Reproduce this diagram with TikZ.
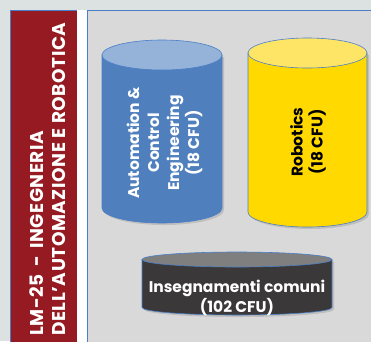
\documentclass[tikz,border=0pt]{standalone}
\usepackage{fontspec}
\setmainfont{Poppins}
\definecolor{bgc}{HTML}{DCE1E1}
\definecolor{panelc}{HTML}{D9D9D9}
\definecolor{redc}{HTML}{951A21}
\definecolor{edgec}{HTML}{4A7EC8}
\definecolor{blueside}{HTML}{4F7FBD}
\definecolor{bluetop}{HTML}{95B2D8}
\definecolor{yelside}{HTML}{FFD900}
\definecolor{yeltop}{HTML}{FFE566}
\definecolor{darkside}{HTML}{3A3838}
\definecolor{darktop}{HTML}{7F7F7F}
\tikzset{
  cylside/.style={line width=0.6pt, draw=edgec},
  cyltop/.style={line width=0.6pt, draw=edgec},
  cylshadow/.style={fill=black, opacity=0.12},
  labelw/.style={text=white, font=\bfseries\fontsize{15.5}{20}\selectfont, align=center, inner sep=0pt},
  labelk/.style={text=black, font=\bfseries\fontsize{15.5}{20}\selectfont, align=center, inner sep=0pt},
  sidetext/.style={text=white, font=\bfseries\fontsize{18.5}{22}\selectfont\addfontfeature{LetterSpace=3}, align=left, inner sep=0pt},
}
% cylinder: #1 xl, #2 xr, #3 yt, #4 yb, #5 ry, #6 side colour, #7 top colour
\newcommand{\mycyl}[7]{%
  \pgfmathsetmacro{\rxx}{(#2-#1)/2}%
  \fill[cylshadow] (#1+2,#3+2) -- (#1+2,#4+2) arc[start angle=180,end angle=0,x radius=\rxx,y radius=#5] -- (#2+2,#3+2) -- cycle;
  \filldraw[cylside, fill=#6] (#1,#3) -- (#1,#4) arc[start angle=180,end angle=0,x radius=\rxx,y radius=#5] -- (#2,#3) -- cycle;
  \filldraw[cyltop, fill=#7] ({(#1+#2)/2},#3) ellipse[x radius=\rxx, y radius=#5];
}
\begin{document}
\begin{tikzpicture}[x=1pt,y=-1pt]
\useasboundingbox (0,0) rectangle (371,341);
\fill[bgc] (0,0) rectangle (371,341);
% left red panel
\filldraw[fill=redc, draw=edgec, line width=0.6pt] (10,10) rectangle (77,345);
\fill[white] (77.3,10) rectangle (86.7,345);
% grey panel
\filldraw[fill=panelc, draw=edgec, line width=0.6pt] (87,10) rectangle (375,345);
\node[sidetext, rotate=90, anchor=west] (title) at (47.5,336) {LM-25 \,-\, INGEGNERIA\\DELL'AUTOMAZIONE E ROBOTICA};
% cylinders
\mycyl{102}{222}{55}{208}{15}{blueside}{bluetop}
\mycyl{248}{367}{53}{212}{15}{yelside}{yeltop}
\mycyl{142}{332}{259.5}{307.5}{7.5}{darkside}{darktop}
\node[labelw, rotate=90] (ace) at (164.5,143) {Automation \&\\Control\\Engineering\\(18 CFU)};
\node[labelk, rotate=90] (rob) at (308,142) {Robotics\\(18 CFU)};
\node[labelw] (common) at (237,298) {Insegnamenti comuni\\(102 CFU)};
\end{tikzpicture}
\end{document}
